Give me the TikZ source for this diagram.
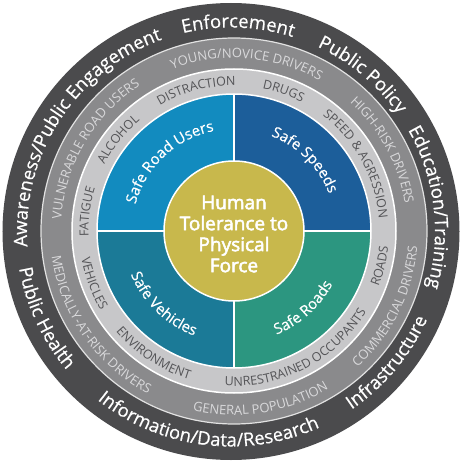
\documentclass[tikz,border=0pt]{standalone}
\usepackage{fontspec}
\setmainfont{Open Sans}
\newfontfamily\semifam[FakeBold=0.5]{Open Sans}
\newfontfamily\corefam[FakeBold=2.6]{Open Sans}
\usetikzlibrary{decorations.text}
\definecolor{darkc}{HTML}{4B4B4D}
\definecolor{grayc}{HTML}{8A8A8C}
\definecolor{lightc}{HTML}{C7C7C9}
\definecolor{grtext}{HTML}{D9D9DB}
\definecolor{lttext}{HTML}{545457}
\definecolor{qone}{HTML}{128BBF}
\definecolor{qtwo}{HTML}{1C5E9A}
\definecolor{qthree}{HTML}{1B7A97}
\definecolor{qfour}{HTML}{2C9680}
\definecolor{olivec}{HTML}{C8B84C}
\newcommand\outerfont{\semifam\fontsize{18.5}{20}\selectfont}
\newcommand\grayfont{\fontsize{13}{14}\selectfont}
\newcommand\lightfont{\fontsize{12.5}{14}\selectfont}
\newcommand\quadfont{\semifam\fontsize{15}{16}\selectfont}
\newcommand\cwlabel[5]{%
  \path[decorate,decoration={text along path,text align=center,text color=#4,text={#5}}]
    (#1) ++({#3+85}:#2) arc[start angle={#3+85},end angle={#3-85},radius=#2];}
\newcommand\ccwlabel[5]{%
  \path[decorate,decoration={text along path,text align=center,text color=#4,text={#5}}]
    (#1) ++({#3-85}:#2) arc[start angle={#3-85},end angle={#3+85},radius=#2];}
\begin{document}
\begin{tikzpicture}[x=1pt,y=1pt,
  divider/.style={draw=white,line width=1.5pt}]
\useasboundingbox (-234,-232) rectangle (226,231);
\coordinate (O) at (0,0);
\coordinate (O2) at (-3,-0.5);
% rings
\fill[darkc] (O2) circle[radius=228.5];
\filldraw[fill=grayc,draw=white!75!grayc,line width=1.2pt] (O) circle[radius=193];
\filldraw[fill=lightc,draw=white,line width=1.5pt] (O) circle[radius=162];
% quadrants
\fill[qone] (O) -- (180:137) arc[start angle=180,end angle=90,radius=137] -- cycle;
\fill[qtwo] (O) -- (90:137) arc[start angle=90,end angle=0,radius=137] -- cycle;
\fill[qthree] (O) -- (270:137) arc[start angle=270,end angle=180,radius=137] -- cycle;
\fill[qfour] (O) -- (360:137) arc[start angle=360,end angle=270,radius=137] -- cycle;
\draw[divider] (O) circle[radius=137];
\coordinate (L) at (-137,0);
\coordinate (R) at (137,0);
\coordinate (T) at (0,137);
\coordinate (B) at (0,-137);
\draw[divider] (L) -- (R);
\draw[divider] (T) -- (B);
% center
\node[circle,fill=olivec,draw=white,line width=1.5pt,minimum size=140pt,inner sep=0pt] (core) at (O) {};
\node[align=center,text=white,font=\corefam\fontsize{19}{21}\selectfont] (coretext) at (0,-3) {Human\\Tolerance to\\Physical\\Force};
% outer labels
\cwlabel{O2}{204}{147}{white}{|\outerfont|Awareness/Public Engagement}
\cwlabel{O2}{204}{88}{white}{|\outerfont|Enforcement}
\cwlabel{O2}{204}{50}{white}{|\outerfont|Public Policy}
\cwlabel{O2}{204}{7}{white}{|\outerfont|Education/Training}
\ccwlabel{O2}{215}{320}{white}{|\outerfont|Infrastructure}
\ccwlabel{O2}{215}{263}{white}{|\outerfont|Information/Data/Research}
\ccwlabel{O2}{215}{205}{white}{|\outerfont|Public Health}
% gray band labels
\cwlabel{O}{173}{149.5}{grtext}{|\grayfont|VULNERABLE ROAD USERS}
\cwlabel{O}{173}{85.6}{grtext}{|\grayfont|YOUNG/NOVICE DRIVERS}
\cwlabel{O}{173}{28.5}{grtext}{|\grayfont|HIGH-RISK DRIVERS}
\ccwlabel{O}{184}{333.7}{grtext}{|\grayfont|COMMERCIAL DRIVERS}
\ccwlabel{O}{184}{279}{grtext}{|\grayfont|GENERAL POPULATION}
\ccwlabel{O}{184}{215}{grtext}{|\grayfont|MEDICALLY-AT-RISK DRIVERS}
% light band labels
\cwlabel{O}{145.5}{172.5}{lttext}{|\lightfont|FATIGUE}
\cwlabel{O}{145.5}{141.6}{lttext}{|\lightfont|ALCOHOL}
\cwlabel{O}{145.5}{105}{lttext}{|\lightfont|DISTRACTION}
\cwlabel{O}{145.5}{70.5}{lttext}{|\lightfont|DRUGS}
\cwlabel{O}{145.5}{28.7}{lttext}{|\lightfont|SPEED {\&} AGRESSION}
\ccwlabel{O}{155}{346.6}{lttext}{|\lightfont|ROADS}
\ccwlabel{O}{155}{297.6}{lttext}{|\lightfont|UNRESTRAINED OCCUPANTS}
\ccwlabel{O}{155}{236.8}{lttext}{|\lightfont|ENVIRONMENT}
\ccwlabel{O}{155}{200.5}{lttext}{|\lightfont|VEHICLES}
% quadrant labels
\cwlabel{O}{102}{133}{white}{|\quadfont|Safe Road Users}
\cwlabel{O}{102}{45}{white}{|\quadfont|Safe Speeds}
\ccwlabel{O}{112}{226}{white}{|\quadfont|Safe Vehicles}
\ccwlabel{O}{112}{312}{white}{|\quadfont|Safe Roads}
\end{tikzpicture}
\end{document}
